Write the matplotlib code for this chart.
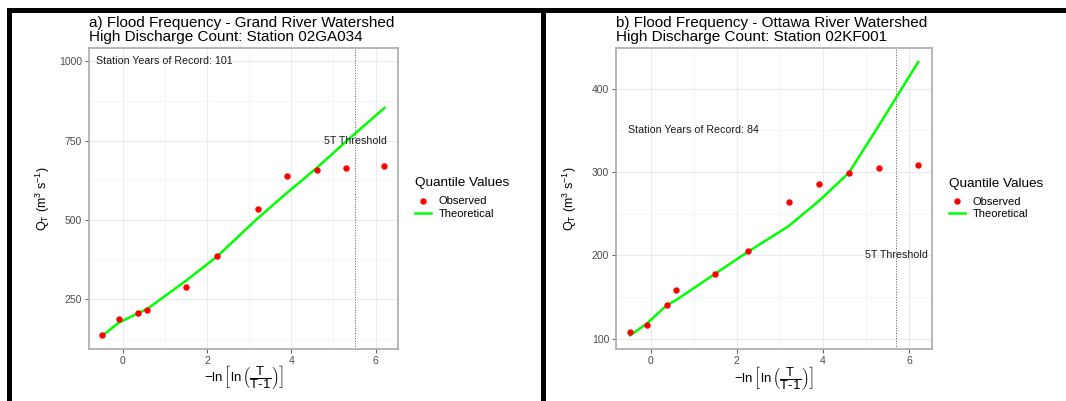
import matplotlib
matplotlib.use('Agg')
import matplotlib.pyplot as plt
from matplotlib.patches import Rectangle
from matplotlib.lines import Line2D

plt.rcParams['font.family'] = ['Liberation Sans', 'DejaVu Sans']
plt.rcParams['mathtext.fontset'] = 'custom'
plt.rcParams['mathtext.rm'] = 'Liberation Sans'
plt.rcParams['mathtext.it'] = 'Liberation Sans'
plt.rcParams['mathtext.bf'] = 'Liberation Sans:bold'

# reduced variate -ln(ln(T/(T-1))) for the return periods
x_reduced = [-0.48, -0.09, 0.37, 0.58, 1.50, 2.25, 3.20, 3.90, 4.60, 5.30, 6.21]

# a) Grand River, station 02GA034
grand_obs = [136, 188, 205, 216, 287, 385, 535, 638, 656, 664, 670]
grand_theo = [134, 175, 205, 218, 307, 385, 504, 585, 663, 747, 853]
grand_threshold = 5.52
grand_years = 101

# b) Ottawa River, station 02KF001
ottawa_obs = [108, 116, 140, 158, 178, 205, 264, 286, 299, 305, 309]
ottawa_theo = [104, 118, 140, 146, 178, 204, 235, 265, 299, 356, 432]
ottawa_threshold = 5.70
ottawa_years = 84

W, H = 1066, 401
fig = plt.figure(figsize=(W / 100, H / 100), dpi=100)


def px_box(x0, y0, x1, y1):
    # pixel box (top-left origin) -> figure fraction rect
    return [x0 / W, 1 - y1 / H, (x1 - x0) / W, (y1 - y0) / H]


def draw_panel(box, titles, obs, theo, thresh, years, years_y, thresh_y,
               ylim, yticks, yminor):
    ax = fig.add_axes(px_box(*box))
    ax.set_xlim(-0.80, 6.54)
    ax.set_ylim(*ylim)
    ax.set_xticks([0, 2, 4, 6])
    ax.set_xticks([1, 3, 5], minor=True)
    ax.set_yticks(yticks)
    ax.set_yticks(yminor, minor=True)
    ax.grid(True, which='major', color='#EBEBEB', lw=0.8)
    ax.grid(True, which='minor', color='#F2F2F2', lw=0.5)
    ax.set_axisbelow(True)
    for s in ax.spines.values():
        s.set_color('#AAAAAA')
        s.set_linewidth(1.2)
    ax.tick_params(which='major', length=3, width=0.6, color='#444444',
                   labelsize=7.5, labelcolor='#4D4D4D', pad=2)
    ax.tick_params(which='minor', length=0)

    ax.axvline(thresh, color='#555555', ls=':', lw=0.7)
    ax.plot(x_reduced, theo, color='#00FF00', lw=1.8, zorder=3)
    ax.plot(x_reduced, obs, 'o', color='#FF0000', ms=3.6, zorder=4)

    ax.text(1.0, years_y, 'Station Years of Record: %d' % years,
            ha='center', va='center', fontsize=7.7, color='#1A1A1A')
    ax.text(thresh, thresh_y, '5T Threshold', ha='center', va='center',
            fontsize=7.7, color='#1A1A1A')

    # two-line title, left aligned with the panel
    for line, base in zip(titles, [26.6, 41.2]):
        fig.text(box[0] / W, 1 - base / H, line, ha='left', va='baseline',
                 fontsize=11, color='#000000')

    ax.set_ylabel(r'$\mathregular{Q_T\ (m^3\ s^{-1})}$', fontsize=9)
    ax.yaxis.set_label_coords(-0.118, 0.5)
    ax.set_xlabel(r'$-\ln\left[\ln\left(\dfrac{T}{T\text{-}1}\right)\right]$',
                  fontsize=9.5)
    ax.xaxis.set_label_coords(0.5, -0.052)

    handles = [
        Line2D([], [], marker='o', ls='none', color='#FF0000', ms=3.6),
        Line2D([], [], color='#00FF00', lw=1.8),
    ]
    leg = ax.legend(handles, ['Observed', 'Theoretical'],
                    title='Quantile Values', loc='upper left',
                    bbox_to_anchor=(1.054, 0.57), borderaxespad=0,
                    borderpad=0, frameon=False, fontsize=8,
                    title_fontsize=9.7, handlelength=1.4,
                    handletextpad=0.7, labelspacing=0.25,
                    alignment='left')
    leg._legend_box.sep = 5
    return ax


draw_panel((88.8, 48.3, 398.4, 348.7),
           ['a) Flood Frequency - Grand River Watershed',
            'High Discharge Count: Station 02GA034'],
           grand_obs, grand_theo, grand_threshold, grand_years, 1000, 750,
           (93, 1041), [250, 500, 750, 1000], [125, 375, 625, 875])

draw_panel((616.2, 48.3, 932.4, 349),
           ['b) Flood Frequency - Ottawa River Watershed',
            'High Discharge Count: Station 02KF001'],
           ottawa_obs, ottawa_theo, ottawa_threshold, ottawa_years, 350, 200,
           (87.6, 448.5), [100, 200, 300, 400], [150, 250, 350])

# black frame bars around the panels
for x0, y0, x1, y1 in [(7, 8, W, 13), (7, 8, 12, H), (541, 8, 546, H)]:
    r = px_box(x0, y0, x1, y1)
    fig.add_artist(Rectangle((r[0], r[1]), r[2], r[3], transform=fig.transFigure,
                             color='black', lw=0))

fig.savefig('out.png', dpi=100)
